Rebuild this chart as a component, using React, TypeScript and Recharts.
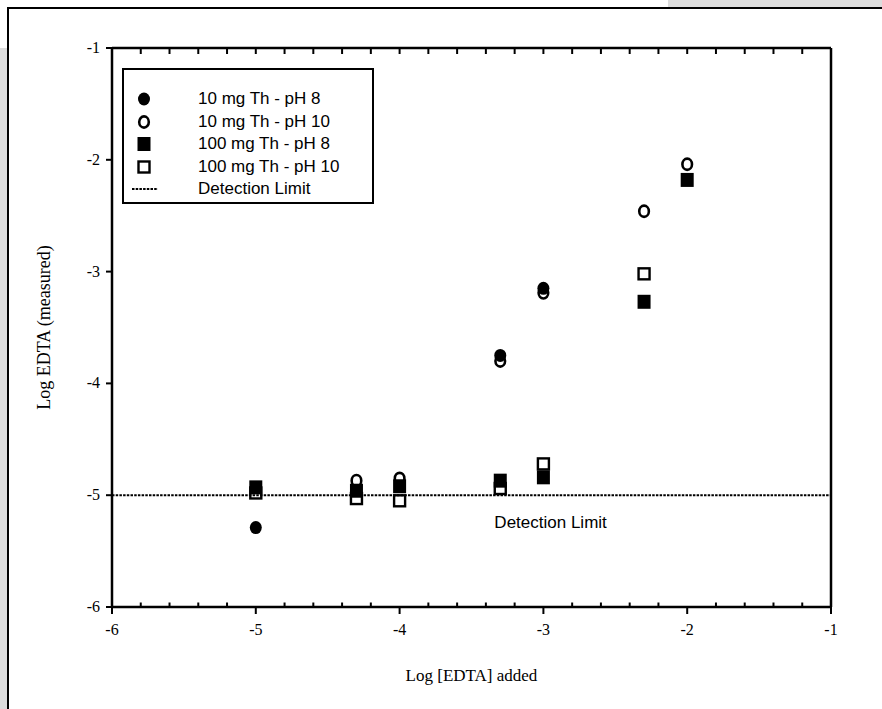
import React from 'react';
import { ScatterChart, Scatter, XAxis, YAxis, ReferenceLine, ReferenceDot } from 'recharts';

// ---- data ----
const domainMin = -6;
const domainMax = -1;
const majorTicks = [-6, -5, -4, -3, -2, -1];
const minorTicks = [-6, -5.8, -5.6, -5.4, -5.2, -5, -4.8, -4.6, -4.4, -4.2, -4, -3.8, -3.6, -3.4, -3.2, -3, -2.8, -2.6, -2.4, -2.2, -2, -1.8, -1.6, -1.4, -1.2, -1];

const th10pH8 = [
  { x: -5, y: -5.29 },
  { x: -3.3, y: -3.75 },
  { x: -3, y: -3.15 },
];
const th10pH10 = [
  { x: -4.3, y: -4.87 },
  { x: -4, y: -4.85 },
  { x: -3.3, y: -3.8 },
  { x: -3, y: -3.19 },
  { x: -2.3, y: -2.46 },
  { x: -2, y: -2.04 },
];
const th100pH8 = [
  { x: -5, y: -4.93 },
  { x: -4.3, y: -4.96 },
  { x: -4, y: -4.92 },
  { x: -3.3, y: -4.87 },
  { x: -3, y: -4.84 },
  { x: -2.3, y: -3.27 },
  { x: -2, y: -2.18 },
];
const th100pH10 = [
  { x: -5, y: -4.98 },
  { x: -4.3, y: -5.03 },
  { x: -4, y: -5.05 },
  { x: -3.3, y: -4.94 },
  { x: -3, y: -4.72 },
  { x: -2.3, y: -3.02 },
];
const detectionLimit = -5;
const detectionLabel = { x: -2.95, y: -5.24, text: 'Detection Limit' };
const legendNames = ['10 mg Th - pH 8', '10 mg Th - pH 10', '100 mg Th - pH 8', '100 mg Th - pH 10', 'Detection Limit'];
const legendKinds = ['fc', 'oc', 'fs', 'os', 'line'];

const SERIF = '"Liberation Serif", "Times New Roman", serif';
const SANS = '"Liberation Sans", Arial, sans-serif';
const DASH = '2.5 1.2';
const PLOT_TOP = 48;
const PLOT_BOTTOM = 607;

// ---- marker shapes ----
const FilledCircle = (p: any) => <ellipse cx={p.cx} cy={p.cy} rx={6} ry={6.5} fill="#000" />;
const OpenCircle = (p: any) => <ellipse cx={p.cx} cy={p.cy} rx={4.8} ry={5.6} fill="none" stroke="#000" strokeWidth={2.6} />;
const FilledSquare = (p: any) => <rect x={p.cx - 6.5} y={p.cy - 7} width={13} height={14} fill="#000" />;
const OpenSquare = (p: any) => <rect x={p.cx - 5.5} y={p.cy - 5.5} width={11} height={11} fill="none" stroke="#000" strokeWidth={2.4} />;

// bottom axis tick: major ticks outward with label, minor ticks inward; also top-edge inward ticks
const XTick = (p: any) => {
  const v = p.payload.value;
  const x = p.x;
  const major = majorTicks.includes(v);
  return (
    <g>
      <path d={`M${x},${PLOT_TOP} V${PLOT_TOP + 6}`} stroke="#000" strokeWidth={2} fill="none" />
      {major ? (
        <>
          <path d={`M${x},${PLOT_BOTTOM} V${PLOT_BOTTOM + 7}`} stroke="#000" strokeWidth={2} fill="none" />
          <text x={x} y={PLOT_BOTTOM + 28} textAnchor="middle" fill="#000" fontFamily={SERIF} fontSize={16}>
            {v}
          </text>
        </>
      ) : (
        <path d={`M${x},${PLOT_BOTTOM} V${PLOT_BOTTOM - 4.5}`} stroke="#000" strokeWidth={2} fill="none" />
      )}
    </g>
  );
};

const YTick = (p: any) => (
  <text x={p.x} y={p.y} dy={5} textAnchor="end" fill="#000" fontFamily={SERIF} fontSize={16}>
    {p.payload.value}
  </text>
);

const LegendMarker = ({ kind }: { kind: string }) => {
  if (kind === 'fc') return <FilledCircle cx={12} cy={10} />;
  if (kind === 'oc') return <OpenCircle cx={12} cy={10} />;
  if (kind === 'fs') return <FilledSquare cx={12} cy={10} />;
  if (kind === 'os') return <OpenSquare cx={12} cy={10} />;
  return <line x1={0} x2={26} y1={10} y2={10} stroke="#000" strokeWidth={2} strokeDasharray={DASH} />;
};

const LegendBox = () => (
  <div
    style={{
      position: 'absolute',
      left: 122,
      top: 68,
      width: 248,
      height: 114,
      border: '2px solid #000',
      background: '#fff',
      boxSizing: 'content-box',
      paddingTop: 18,
      fontFamily: SANS,
      fontSize: 17,
      color: '#000',
    }}
  >
    {legendNames.map((n, i) => (
      <div key={n} style={{ display: 'flex', alignItems: 'center', height: 22.5 }}>
        <svg width={28} height={20} style={{ marginLeft: 8, marginRight: 38 }}>
          <LegendMarker kind={legendKinds[i]} />
        </svg>
        <span style={{ lineHeight: '20px' }}>{n}</span>
      </div>
    ))}
  </div>
);

export default function App() {
  return (
    <div style={{ position: 'absolute', left: 0, top: 0, width: 882, height: 709, background: '#fff', overflow: 'hidden' }}>
      <div style={{ position: 'absolute', left: 0, top: 48, width: 7, height: 700, background: '#dcdcdc' }} />
      <div style={{ position: 'absolute', left: 668, top: 0, width: 220, height: 7, background: '#dcdcdc' }} />
      <div style={{ position: 'absolute', left: 7, top: 7, width: 900, height: 720, borderLeft: '2px solid #000', borderTop: '2px solid #000' }} />
      <div style={{ position: 'absolute', left: 0, top: 0 }}>
        <ScatterChart width={882} height={709} margin={{ top: PLOT_TOP, right: 51, bottom: 709 - PLOT_BOTTOM - 60, left: 52 }}>
          <ReferenceLine y={domainMax} stroke="#000" strokeWidth={2.5} />
          <ReferenceLine x={domainMax} stroke="#000" strokeWidth={2.5} />
          <ReferenceLine y={detectionLimit} stroke="#000" strokeWidth={2} strokeDasharray={DASH} />
          <XAxis
            type="number"
            dataKey="x"
            domain={[domainMin, domainMax]}
            ticks={minorTicks}
            interval={0}
            height={60}
            tickSize={0}
            tickMargin={0}
            tickLine={false}
            axisLine={{ stroke: '#000', strokeWidth: 2.5 }}
            tick={<XTick />}
            label={{ value: 'Log [EDTA] added', position: 'insideBottom', offset: -14, fill: '#000', fontFamily: SERIF, fontSize: 17 }}
            allowDataOverflow
          />
          <YAxis
            type="number"
            dataKey="y"
            domain={[domainMin, domainMax]}
            ticks={majorTicks}
            interval={0}
            width={60}
            tickSize={6}
            tickMargin={6}
            axisLine={{ stroke: '#000', strokeWidth: 2.5 }}
            tickLine={{ stroke: '#000', strokeWidth: 2 }}
            tick={<YTick />}
            label={{ value: 'Log EDTA (measured)', angle: -90, position: 'insideLeft', offset: -8, style: { textAnchor: 'middle' }, fill: '#000', fontFamily: SERIF, fontSize: 18 }}
            allowDataOverflow
          />
          <ReferenceDot
            x={detectionLabel.x}
            y={detectionLabel.y}
            r={0}
            fill="none"
            stroke="none"
            label={{ value: detectionLabel.text, position: 'center', fill: '#000', fontFamily: SANS, fontSize: 17 }}
          />
          <Scatter name="10 mg Th - pH 8" data={th10pH8} shape={FilledCircle} isAnimationActive={false} />
          <Scatter name="10 mg Th - pH 10" data={th10pH10} shape={OpenCircle} isAnimationActive={false} />
          <Scatter name="100 mg Th - pH 8" data={th100pH8} shape={FilledSquare} isAnimationActive={false} />
          <Scatter name="100 mg Th - pH 10" data={th100pH10} shape={OpenSquare} isAnimationActive={false} />
        </ScatterChart>
      </div>
      <LegendBox />
    </div>
  );
}
